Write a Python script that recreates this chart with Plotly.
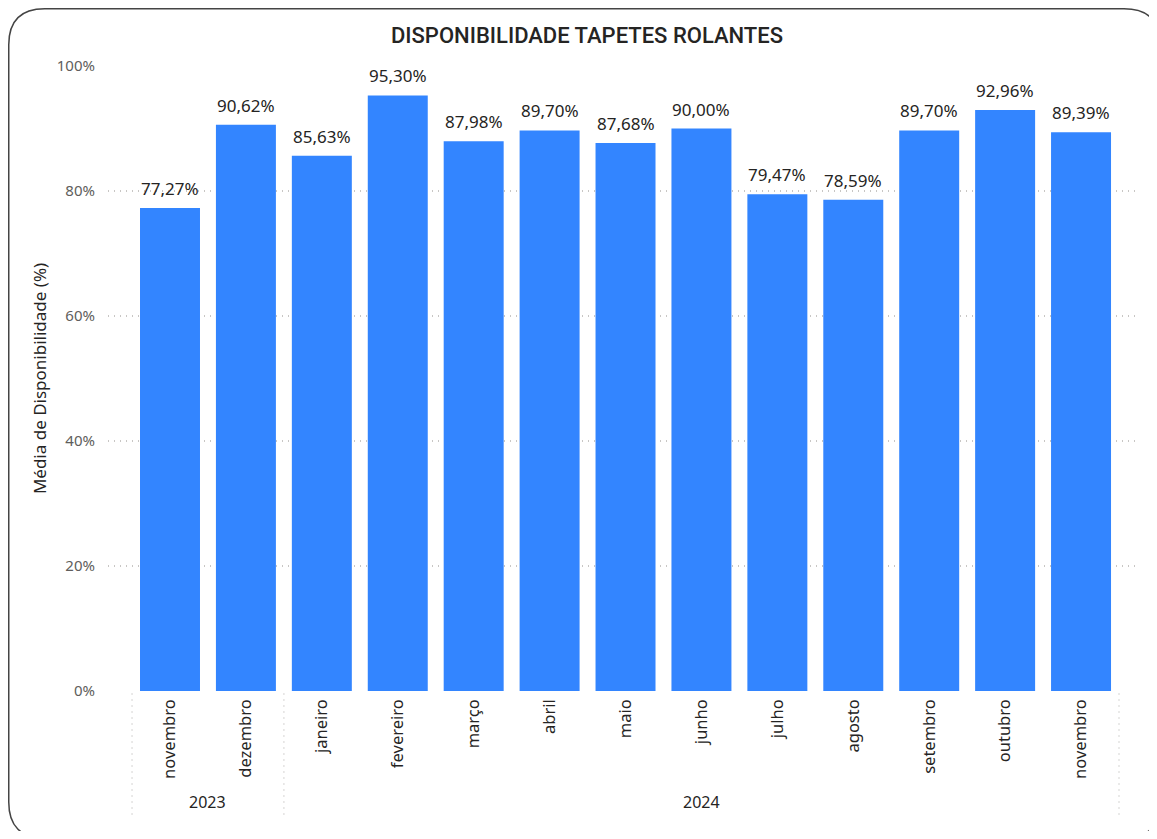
import plotly.graph_objects as go

# ── Dados ─────────────────────────────────────────────────────────────
anos = ["2023", "2023", "2024", "2024", "2024", "2024", "2024",
        "2024", "2024", "2024", "2024", "2024", "2024"]
meses = ["novembro", "dezembro", "janeiro", "fevereiro", "março", "abril",
         "maio", "junho", "julho", "agosto", "setembro", "outubro", "novembro"]
disponibilidade = [77.27, 90.62, 85.63, 95.30, 87.98, 89.70, 87.68,
                   90.00, 79.47, 78.59, 89.70, 92.96, 89.39]
y_ticks = [0, 20, 40, 60, 80, 100]

# a página tem 8px de margem no body: a figura cabe dentro da janela sem overflow
OFF = 8
W, H = 1157 - 2 * OFF, 839 - 2 * OFF
L, T = 108 - OFF, 66 - OFF
R, B = W - (1140 - OFF), H - (691 - OFF)
PW, PH = W - L - R, H - T - B

FONT = "Noto Sans, Open Sans, sans-serif"
TXT = "#252423"
GRID = "#C8C6C4"
BAR = "#3385FF"


def px2paper(x, y):
    """pixel da janela -> coordenada paper"""
    x, y = x - OFF, y - OFF
    return (x - L) / PW, (H - B - y) / PH


def rounded_box(x0, y0, x1, y1, r):
    """Caminho de retângulo arredondado em coordenadas paper"""
    pts = [
        ("M", [(x0 + r, y0)]),
        ("L", [(x1 - r, y0)]),
        ("Q", [(x1, y0), (x1, y0 + r)]),
        ("L", [(x1, y1 - r)]),
        ("Q", [(x1, y1), (x1 - r, y1)]),
        ("L", [(x0 + r, y1)]),
        ("Q", [(x0, y1), (x0, y1 - r)]),
        ("L", [(x0, y0 + r)]),
        ("Q", [(x0, y0), (x0 + r, y0)]),
    ]
    out = []
    for cmd, ps in pts:
        coords = " ".join("%.5f,%.5f" % px2paper(*p) for p in ps)
        out.append(f"{cmd} {coords}")
    return " ".join(out) + " Z"


cats = [f"{a} {m}" for a, m in zip(anos, meses)]

fig = go.Figure(go.Bar(
    x=cats, y=disponibilidade,
    marker=dict(color=BAR, line=dict(width=0)),
    hovertemplate="%{x}: %{y:.2f}%<extra></extra>",
))

# rótulos de dados
for c, v in zip(cats, disponibilidade):
    fig.add_annotation(x=c, y=v, text=f"{v:.2f}%".replace(".", ","),
                       yanchor="bottom", yshift=6, showarrow=False,
                       font=dict(family=FONT, size=17, color=TXT))

step_px = 75.92
first_px = 170 - 108
x_lo = -first_px / step_px
x_hi = x_lo + PW / step_px

fig.update_layout(
    width=W, height=H,
    margin=dict(l=L, r=R, t=T, b=B, pad=0),
    paper_bgcolor="white", plot_bgcolor="white",
    bargap=0.21,
    showlegend=False,
    font=dict(family=FONT, color=TXT),
    title=dict(text="DISPONIBILIDADE TAPETES ROLANTES",
               x=(587 - OFF) / W, xanchor="center",
               y=1 - (35 - OFF) / H, yanchor="middle",
               font=dict(family="Roboto, Noto Sans, sans-serif", size=22,
                         color=TXT, weight=500)),
    xaxis=dict(
        type="category",
        range=[x_lo, x_hi],
        tickvals=cats, ticktext=meses,
        tickangle=-90,
        tickfont=dict(family=FONT, size=16.5, color=TXT),
        showgrid=False, showline=False, zeroline=False,
        ticks="", ticklabelstandoff=4,
    ),
    yaxis=dict(
        range=[0, 100],
        tickvals=y_ticks, ticktext=[f"{v}%" for v in y_ticks],
        tickfont=dict(family=FONT, size=15, color="#605E5C"),
        showgrid=True, gridcolor=GRID, griddash="1px,5px", gridwidth=1.5,
        zeroline=False, showline=False, ticks="",
        ticklabelstandoff=12,
        title=dict(text="Média de Disponibilidade (%)", standoff=5,
                   font=dict(family=FONT, size=17, color=TXT)),
    ),
)

# separadores de ano (pontilhados)
for xv in [-0.5, 1.5, 12.5]:
    fig.add_shape(type="line", xref="x", yref="paper",
                  x0=xv, x1=xv, y0=-0.004, y1=px2paper(0, 818)[1],
                  line=dict(color=GRID, width=1.5, dash="1px,5px"))

# rótulos de ano
for txt, xv in [("2023", 0.5), ("2024", 7.0)]:
    fig.add_annotation(text=txt, xref="x", yref="paper", x=xv,
                       y=px2paper(0, 802)[1], yanchor="middle",
                       showarrow=False,
                       font=dict(family=FONT, size=16, color=TXT))

# moldura arredondada
fig.add_shape(type="path", xref="paper", yref="paper",
              path=rounded_box(8.75, 8.75, 1160, 838, 36),
              line=dict(color="#444444", width=1.5))

fig.write_html("out.html")
